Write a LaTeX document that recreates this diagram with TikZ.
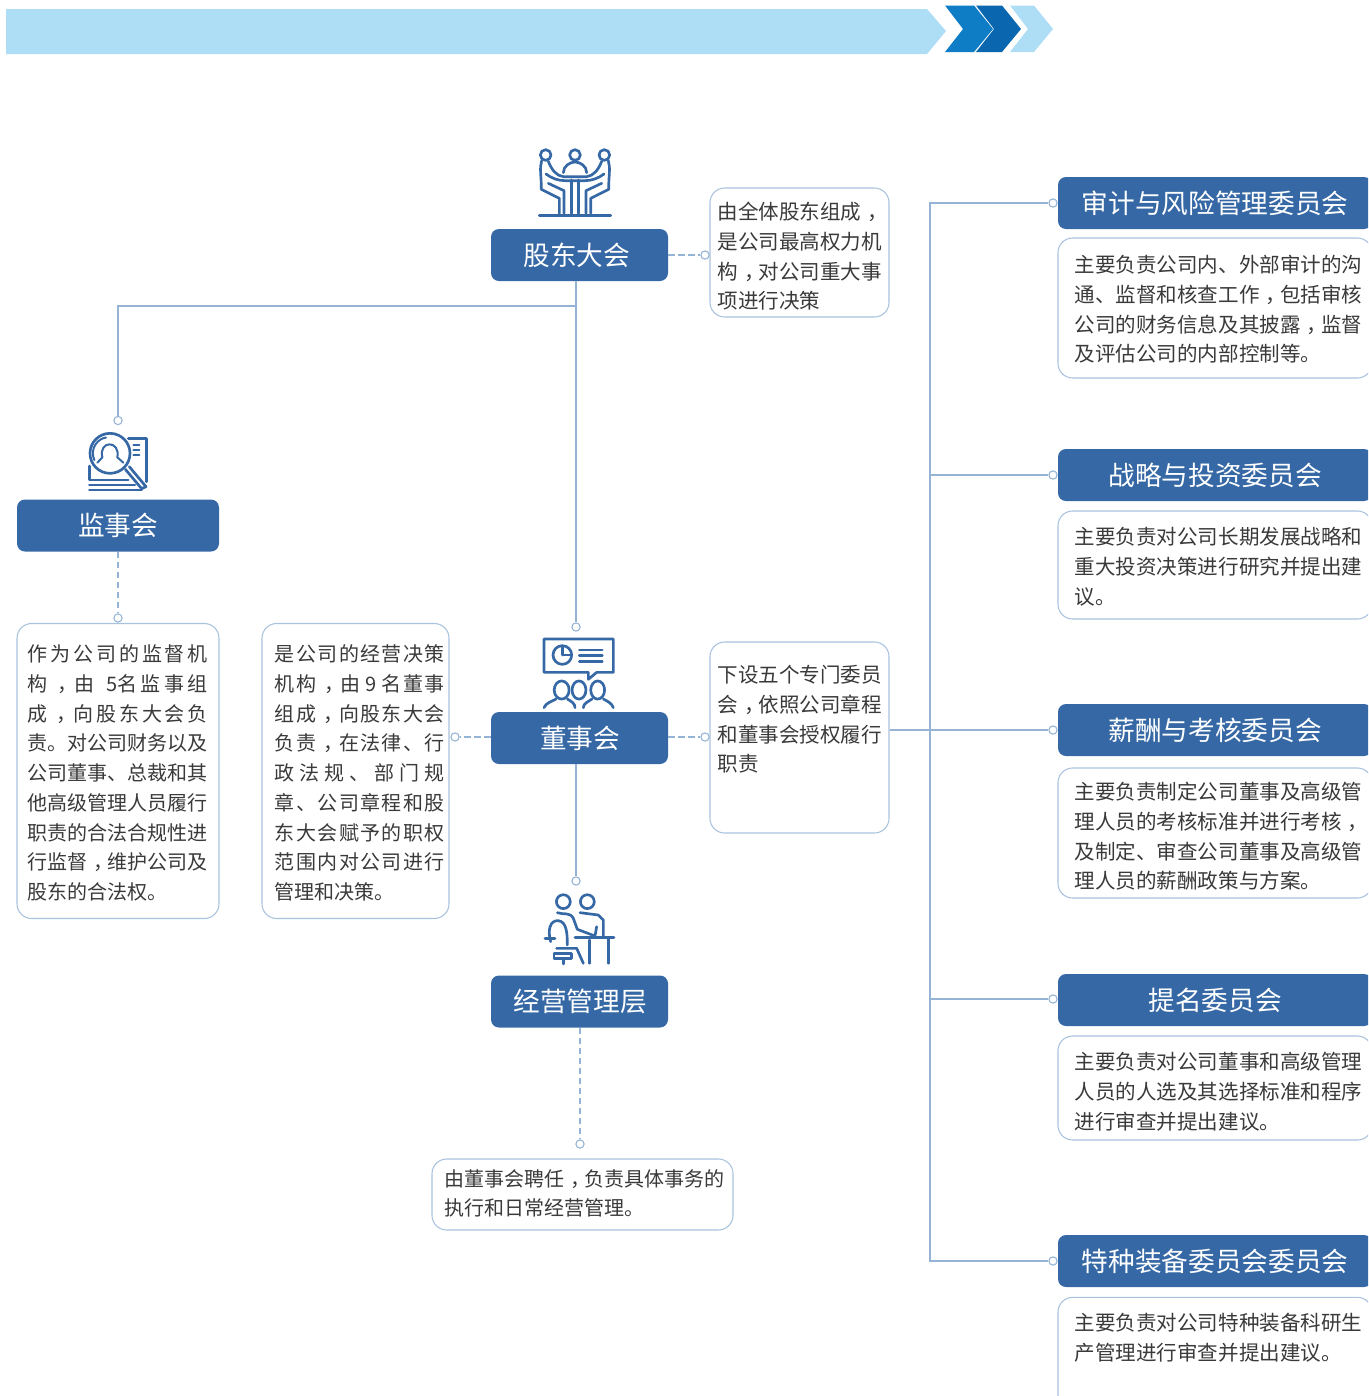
\documentclass[tikz,border=0pt]{standalone}
\usepackage{fontspec}
\setmainfont{Noto Sans CJK SC}
\ExplSyntaxOn
\NewDocumentCommand\jl{mm}{\makebox[#1][s]{\tl_map_inline:nn{#2}{##1\hfil}\unskip}}
\ExplSyntaxOff
\newcommand\zc{\kern0.3em，\kern-0.3em}
\definecolor{nodeblue}{HTML}{3568A4}
\definecolor{wire}{HTML}{94B3D5}
\definecolor{boxline}{HTML}{A9C3DE}
\definecolor{bodytext}{HTML}{3A3A3A}
\definecolor{bannerlight}{HTML}{AEDDF6}
\definecolor{chevA}{HTML}{0F7DC5}
\definecolor{chevB}{HTML}{0A67AF}
\tikzset{
  bluebox/.style={fill=nodeblue,draw=none,rounded corners=6pt,text=white,minimum height=39pt,inner sep=0pt,font=\fontsize{20pt}{24pt}\selectfont},
  descbox/.style={draw=boxline,line width=0.8pt,rounded corners=11pt,fill=white,inner sep=0pt},
  bodylines/.style={anchor=north west,inner sep=0pt,align=left,text=bodytext,font=\fontsize{15.4pt}{22.3pt}\selectfont},
  narrowlines/.style={bodylines,font=\fontsize{15pt}{22.3pt}\selectfont},
  port/.style={circle,draw=wire,fill=white,line width=0.8pt,inner sep=0pt,minimum size=6.2pt},
  wireline/.style={draw=wire,line width=0.85pt},
  dashline/.style={draw=wire,line width=0.85pt,dash pattern=on 5pt off 2.5pt},
  iconline/.style={draw=nodeblue,line width=2pt,line cap=round,line join=round,fill=none},
  iconthin/.style={draw=nodeblue,line width=1.5pt,line cap=round,line join=round,fill=none},
}
\begin{document}
\begin{tikzpicture}[x=0.75pt,y=-0.75pt]
\useasboundingbox (0,0) rectangle (1368,1396);
\clip (0,0) rectangle (1368,1396);
% banner
\fill[bannerlight] (6,9) -- (927,9) -- (946,31) -- (927,54) -- (6,54) -- cycle;
\fill[chevA] (945,5.5) -- (974,5.5) -- (993,29) -- (974,52) -- (945,52) -- (963,29) -- cycle;
\fill[chevB] (976,5.5) -- (1002,5.5) -- (1021,29) -- (1002,52) -- (976,52) -- (994,29) -- cycle;
\fill[bannerlight] (1010,5.5) -- (1034,5.5) -- (1053,29) -- (1034,52) -- (1010,52) -- (1028,29) -- cycle;

% main nodes
\node[bluebox,minimum width=132.75pt] (gd) at (579.5,255) {\kern-4pt 股东大会};
\node[bluebox,minimum width=151.5pt] (js) at (118,525.5) {监事会};
\node[bluebox,minimum width=132.75pt] (ds) at (579.5,738) {\kern1pt 董事会};
\node[bluebox,minimum width=132.75pt] (jy) at (579.5,1001.5) {\kern1pt 经营管理层};
% committee titles
\node[bluebox,minimum width=235.5pt] (c1) at (1215,203) {审计与风险管理委员会};
\node[bluebox,minimum width=235.5pt] (c2) at (1215,475) {战略与投资委员会};
\node[bluebox,minimum width=235.5pt] (c3) at (1215,730) {薪酬与考核委员会};
\node[bluebox,minimum width=235.5pt] (c4) at (1215,1000) {提名委员会};
\node[bluebox,minimum width=235.5pt] (c5) at (1215,1261) {特种装备委员会委员会};

% description boxes
\node[descbox,minimum width=134.25pt,minimum height=96.75pt] (dgd) at (799.5,252.5) {};
\node[descbox,minimum width=151.5pt,minimum height=221.25pt] (djs) at (118,771) {};
\node[descbox,minimum width=140.25pt,minimum height=221.25pt] (dds) at (355.5,771) {};
\node[descbox,minimum width=134.25pt,minimum height=143.25pt] (dwy) at (799.5,737.5) {};
\node[descbox,minimum width=225.75pt,minimum height=53.25pt] (djy) at (582.5,1194.5) {};
\node[descbox,minimum width=235.5pt,minimum height=105pt] (dc1) at (1215,308) {};
\node[descbox,minimum width=235.5pt,minimum height=81pt] (dc2) at (1215,565) {};
\node[descbox,minimum width=235.5pt,minimum height=97.5pt] (dc3) at (1215,833) {};
\node[descbox,minimum width=235.5pt,minimum height=78pt] (dc4) at (1215,1088) {};
\node[descbox,minimum width=235.5pt,minimum height=100pt] (dc5) at (1215,1364) {};

% texts
\node[bodylines] (tgd) at (717.5,202) {由全体股东组成\zc\\是公司最高权力机\\构\zc 对公司重大事\\项进行决策};
\node[narrowlines] (tjs) at (27.5,644.5) {\jl{135pt}{作为公司的监督机}\\\jl{135pt}{构\zc 由{\ }{5名}监事组}\\\jl{135pt}{成\zc 向股东大会负}\\\jl{135pt}{责。对公司财务以及}\\\jl{135pt}{公司董事、总裁和其}\\\jl{135pt}{他高级管理人员履行}\\\jl{135pt}{职责的合法合规性进}\\\jl{135pt}{行监督\zc 维护公司及}\\股东的合法权。};
\node[narrowlines] (tds) at (274.5,644.5) {\jl{127.5pt}{是公司的经营决策}\\\jl{127.5pt}{机构\zc 由{\,9\,}名董事}\\\jl{127.5pt}{组成\zc 向股东大会}\\\jl{127.5pt}{负责\zc 在法律、行}\\\jl{127.5pt}{政法规、部门规}\\\jl{127.5pt}{章、公司章程和股}\\\jl{127.5pt}{东大会赋予的职权}\\\jl{127.5pt}{范围内对公司进行}\\管理和决策。};
\node[bodylines] (twy) at (717.5,665) {下设五个专门委员\\会\zc 依照公司章程\\和董事会授权履行\\职责};
\node[narrowlines] (tjy) at (444,1169) {由董事会聘任\zc 负责具体事务的\\执行和日常经营管理。};
\node[bodylines] (tc1) at (1074.5,255) {主要负责公司内、外部审计的沟\\通、监督和核查工作\zc 包括审核\\公司的财务信息及其披露\zc 监督\\及评估公司的内部控制等。};
\node[bodylines] (tc2) at (1074.5,527) {主要负责对公司长期发展战略和\\重大投资决策进行研究并提出建\\议。};
\node[bodylines] (tc3) at (1074.5,782) {主要负责制定公司董事及高级管\\理人员的考核标准并进行考核\zc\\及制定、审查公司董事及高级管\\理人员的薪酬政策与方案。};
\node[bodylines] (tc4) at (1074.5,1052) {主要负责对公司董事和高级管理\\人员的人选及其选择标准和程序\\进行审查并提出建议。};
\node[bodylines] (tc5) at (1074.5,1313) {主要负责对公司特种装备科研生\\产管理进行审查并提出建议。};

% ports
\node[port] (pjs) at (118,420.5) {};
\node[port] (pds) at (576,627) {};
\node[port] (pjy) at (576,881) {};
\node[port] (pgdr) at (705,255) {};
\node[port] (pjsb) at (118,618) {};
\node[port] (pdsl) at (455,737) {};
\node[port] (pdsr) at (705,737) {};
\node[port] (pjyb) at (580,1144) {};
\node[port] (pc1) at (1053,203) {};
\node[port] (pc2) at (1053,475) {};
\node[port] (pc3) at (1053,730) {};
\node[port] (pc4) at (1053,999) {};
\node[port] (pc5) at (1053,1261) {};
\coordinate (busTop) at (930,203);
\coordinate (busBot) at (930,1261);
\coordinate (forkL) at (118,306);
\coordinate (forkR) at (576,306);

% connectors
\draw[wireline] (pds |- gd.south) -- (pds.north);
\draw[wireline] (forkR) -- (forkL) -- (pjs.north);
\draw[wireline] (pjy |- ds.south) -- (pjy.north);
\draw[dashline] (gd.east) -- (pgdr.west);
\draw[dashline] (js.south) -- (pjsb.north);
\draw[dashline] (ds.west |- pdsl) -- (pdsl.east);
\draw[dashline] (ds.east |- pdsr) -- (pdsr.west);
\draw[dashline] (pjyb |- jy.south) -- (pjyb.north);
\draw[wireline] (pc1.west) -- (busTop) -- (busBot) -- (pc5.west);
\draw[wireline] (busTop |- pc2) -- (pc2.west);
\draw[wireline] (dwy.east |- pc3) -- (pc3.west);
\draw[wireline] (busTop |- pc4) -- (pc4.west);

% icon: shareholders
\begin{scope}[shift={(480,130)},x=0.25pt,y=-0.25pt]
\draw[iconline] (197,75) circle (4pt);
\draw[iconline] (285,75) circle (4pt);
\draw[iconline] (373,75) circle (4pt);
\draw[iconline] (178,257) -- (392,257);
\draw[iconline] (274,150) -- (274,250) (296,150) -- (296,250);
\draw[iconline] (250,128) .. controls (250,108) and (270,96) .. (285,96) .. controls (300,96) and (320,108) .. (320,128);
\draw[iconline] (205,94) .. controls (215,120) and (230,138) .. (250,140) -- (320,140) .. controls (340,138) and (355,120) .. (365,94);
\draw[iconline] (198,132) .. controls (215,145) and (235,152) .. (255,152) -- (315,152) .. controls (335,152) and (355,145) .. (372,132);
\draw[iconline] (185,92) .. controls (178,115) and (184,135) .. (184,178) -- (238,205) -- (238,250);
\draw[iconline] (385,92) .. controls (392,115) and (386,135) .. (386,178) -- (332,205) -- (332,250);
\draw[iconline] (205,160) -- (252,182) -- (252,250);
\draw[iconline] (365,160) -- (318,182) -- (318,250);
\end{scope}

% icon: supervisor
\begin{scope}[shift={(60,410)},x=0.25pt,y=-0.25pt]
\draw[iconline] (205,85) -- (260,85) -- (260,215);
\draw[iconline] (88,168) -- (88,210) -- (205,210);
\draw[iconline] (150,130) circle (15pt);
\draw[iconthin] (103,150) arc[start angle=205,end angle=100,radius=12pt];
\draw[iconthin] (127,142) .. controls (115,90) and (182,90) .. (172,142);
\draw[iconthin] (127,142) -- (112,158) (172,142) -- (190,158);
\draw[iconline] (196,178) -- (245,236) -- (258,230) -- (208,170);
\draw[iconthin] (220,105) -- (238,105) (220,120) -- (238,120) (220,135) -- (238,135);
\draw[iconline] (88,225) -- (225,225) (88,240) -- (245,240);
\end{scope}

% icon: board
\begin{scope}[shift={(440,620)},x=0.25pt,y=-0.25pt]
\draw[iconline] (312,57) -- (520,57) -- (520,157) -- (470,157) -- (445,178) -- (445,157) -- (312,157) -- cycle;
\draw[iconline] (367,105) circle (7pt);
\draw[iconline] (367,105) -- (367,82) (367,105) -- (390,105);
\draw[iconline] (418,90) -- (487,90) (418,107) -- (487,107) (418,125) -- (487,125);
\draw[iconline] (365,210) ellipse (5.6pt and 6.8pt);
\draw[iconline] (417,210) ellipse (5.2pt and 6.8pt);
\draw[iconline] (473,210) ellipse (5.2pt and 6.8pt);
\draw[iconline] (312,263) .. controls (318,248) and (335,245) .. (348,237);
\draw[iconline] (382,237) .. controls (395,245) and (405,250) .. (405,263);
\draw[iconline] (430,263) .. controls (430,250) and (445,245) .. (456,237);
\draw[iconline] (490,237) .. controls (505,245) and (515,250) .. (520,263);
\end{scope}

% icon: management
\begin{scope}[shift={(530,870)},x=0.25pt,y=-0.25pt]
\draw[iconline] (100,95) circle (5.2pt);
\draw[iconline] (172,95) circle (5.2pt);
\draw[iconline] (82,128) .. controls (100,135) and (120,125) .. (130,145) -- (142,178) -- (195,198) -- (200,170);
\draw[iconline] (150,128) -- (205,135) -- (220,150) -- (220,200);
\draw[iconline] (135,203) -- (252,203);
\draw[iconline] (235,203) -- (235,280);
\draw[iconline] (178,210) -- (178,280);
\draw[iconline] (45,205) -- (75,205);
\draw[iconline] (62,215) .. controls (52,180) and (60,150) .. (85,152) .. controls (110,155) and (112,190) .. (112,225);
\draw[iconline] (80,235) -- (140,235) -- (160,280);
\draw[iconline] (72,250) -- (125,250) -- (125,266) -- (72,266) -- cycle;
\draw[iconline] (100,266) -- (100,282);
\end{scope}
\end{tikzpicture}
\end{document}
